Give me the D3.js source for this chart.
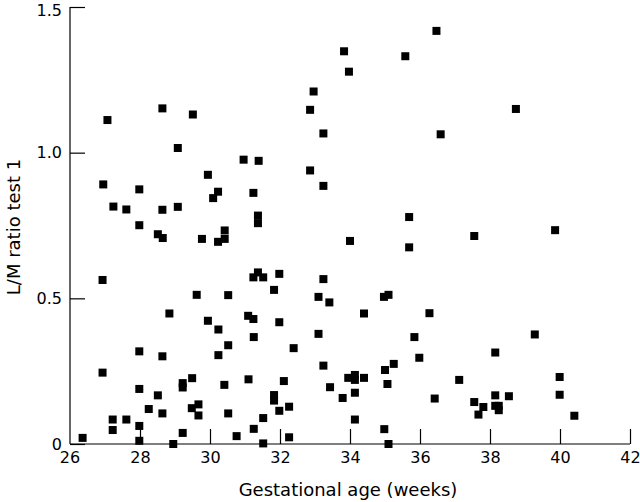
<!DOCTYPE html>
<html>
<head>
<meta charset="utf-8">
<script src="https://cdn.jsdelivr.net/npm/d3@7"></script>
<style>
  body { margin: 0; background: #fff; }
  .axis path, .axis line { stroke: #000; stroke-width: 1.2px; }
  .axis text { font-family: "DejaVu Sans", sans-serif; font-size: 16px; fill: #000; }
  .axis-title { font-family: "DejaVu Sans", sans-serif; font-size: 18px; fill: #000; }
</style>
</head>
<body>
<div id="chart"></div>
<script>
// gestational age (weeks) and L/M ratio
var gestAge = [
  27.07, 28.64, 29.51, 29.08, 33.83, 33.97, 32.96, 32.86, 33.24, 30.96,
  31.39, 32.86, 36.47, 35.58, 38.74, 36.59, 26.95, 27.98, 27.24, 27.61,
  28.64, 29.08, 27.98, 28.51, 28.65, 29.77, 26.93, 29.62, 29.94, 33.24,
  30.23, 30.09, 31.24, 31.37, 31.37, 30.42, 30.42, 30.23, 34.0, 31.37,
  31.24, 31.52, 31.98, 31.83, 33.24, 30.52, 33.1, 33.41, 35.69, 35.69,
  37.55, 39.86, 34.97, 35.1, 36.27, 28.84, 27.98, 28.64, 26.93, 27.98,
  29.22, 29.22, 29.49, 28.51, 28.25, 28.64, 29.48, 29.67, 29.67, 27.22,
  27.61, 27.22, 27.98, 27.98, 26.36, 28.95, 29.22, 29.94, 30.24, 31.09,
  31.24, 31.98, 34.4, 30.52, 30.24, 31.25, 32.39, 33.1, 33.24, 30.41,
  31.1, 32.11, 33.43, 33.95, 34.14, 34.14, 34.4, 34.14, 33.79, 31.83,
  31.83, 31.98, 32.26, 30.52, 31.52, 31.25, 30.76, 31.52, 32.26, 34.14,
  35.84, 35.98, 39.28, 38.15, 35.25, 35.0, 35.07, 37.12, 39.99, 39.99,
  36.42, 38.15, 38.54, 37.55, 37.81, 37.67, 38.15, 38.25, 38.25, 40.41,
  34.98, 35.1
];
var lmRatio = [
  1.112, 1.152, 1.131, 1.016, 1.348, 1.278, 1.210, 1.147, 1.066, 0.976,
  0.972, 0.939, 1.418, 1.331, 1.150, 1.063, 0.891, 0.874, 0.815, 0.805,
  0.804, 0.814, 0.751, 0.720, 0.707, 0.704, 0.563, 0.512, 0.924, 0.886,
  0.866, 0.844, 0.862, 0.784, 0.758, 0.733, 0.704, 0.694, 0.697, 0.589,
  0.572, 0.572, 0.584, 0.529, 0.566, 0.511, 0.505, 0.486, 0.779, 0.675,
  0.714, 0.734, 0.505, 0.512, 0.449, 0.448, 0.318, 0.301, 0.245, 0.189,
  0.209, 0.194, 0.226, 0.167, 0.120, 0.105, 0.123, 0.136, 0.098, 0.084,
  0.084, 0.048, 0.062, 0.011, 0.021, 0.0, 0.038, 0.423, 0.393, 0.440,
  0.429, 0.418, 0.448, 0.339, 0.305, 0.367, 0.329, 0.378, 0.269, 0.203,
  0.222, 0.216, 0.195, 0.227, 0.237, 0.220, 0.227, 0.176, 0.158, 0.168,
  0.149, 0.114, 0.128, 0.105, 0.089, 0.052, 0.027, 0.002, 0.023, 0.084,
  0.367, 0.296, 0.376, 0.314, 0.275, 0.254, 0.206, 0.220, 0.230, 0.169,
  0.156, 0.167, 0.164, 0.144, 0.127, 0.101, 0.131, 0.131, 0.116, 0.097,
  0.051, 0.0
];
var xTicks = [26, 28, 30, 32, 34, 36, 38, 40, 42];
var yTicks = [0, 0.5, 1.0, 1.5];

var width = 640, height = 502;

var svg = d3.select("#chart")
  .append("svg")
  .attr("width", width)
  .attr("height", height);

var x = d3.scaleLinear().domain([26, 42]).range([70, 630]);
var y = d3.scaleLinear().domain([0, 1.5]).range([444, 7]);

// x axis, ticks pointing up into the plot
svg.append("g")
  .attr("class", "axis")
  .attr("transform", "translate(0," + y(0) + ")")
  .call(d3.axisBottom(x).tickValues(xTicks.slice(1)).tickSize(-15).tickSizeOuter(0).tickPadding(8))
  .call(function(g) {
    g.select(".domain").attr("d", "M" + x(26) + ",0H" + x(42));
  });

// 26 label sits under the corner without a tick
svg.append("text")
  .attr("class", "axis-title")
  .style("font-size", "16px")
  .attr("x", x(26))
  .attr("y", y(0) + 8)
  .attr("dy", "0.71em")
  .attr("text-anchor", "middle")
  .text(xTicks[0]);

svg.append("g")
  .attr("class", "axis")
  .attr("transform", "translate(" + x(26) + ",0)")
  .call(d3.axisLeft(y).tickValues(yTicks).tickSize(-15).tickSizeOuter(0).tickPadding(8)
    .tickFormat(function(d) { return d === 0 ? "0" : d3.format(".1f")(d); }))
  .call(function(g) {
    g.select(".domain").attr("d", "M0," + y(1.5) + "V" + y(0));
    // top label sits a little lower in the original, keeps it inside the page
    g.selectAll(".tick text").filter(function(d) { return d === 1.5; }).attr("y", 3);
  });

svg.append("text")
  .attr("class", "axis-title")
  .attr("x", 348)
  .attr("y", 496)
  .attr("text-anchor", "middle")
  .text("Gestational age (weeks)");

svg.append("text")
  .attr("class", "axis-title")
  .attr("transform", "translate(20,227) rotate(-90)")
  .attr("text-anchor", "middle")
  .text("L/M ratio test 1");

// data squares
var s = 8;
svg.append("g")
  .selectAll("rect")
  .data(gestAge)
  .enter().append("rect")
  .attr("x", function(d) { return x(d) - s / 2; })
  .attr("y", function(d, i) { return y(lmRatio[i]) - s / 2; })
  .attr("width", s)
  .attr("height", s)
  .attr("fill", "#000");
</script>
</body>
</html>
